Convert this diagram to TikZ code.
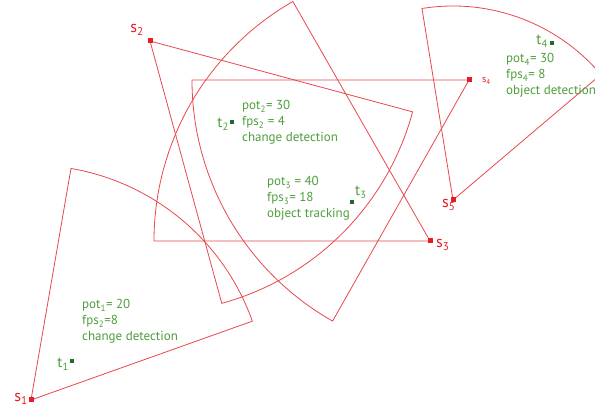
\documentclass[tikz,border=0pt]{standalone}
\usepackage{fontspec}
\setmainfont{PT Sans}
\definecolor{fov}{HTML}{E8484C}
\definecolor{sred}{HTML}{E81C24}
\definecolor{tgreen}{HTML}{4E9F3D}
\definecolor{tdark}{HTML}{1F6B2A}
\begin{document}
\begin{tikzpicture}[x=1pt,y=1pt,
  sensor/.style={rectangle,fill=sred,minimum size=5pt,inner sep=0pt},
  target/.style={rectangle,fill=tdark,minimum size=3.6pt,inner sep=0pt},
  fovline/.style={draw=fov,line width=0.8pt,line join=miter},
  info/.style={text=tgreen,font=\fontsize{13}{16}\selectfont,align=left,anchor=north west,inner sep=0pt},
  slab/.style={text=sred,font=\fontsize{16}{16}\selectfont,inner sep=0pt},
  slabsmall/.style={text=sred,font=\fontsize{10}{10}\selectfont,inner sep=0pt},
  tlab/.style={text=tgreen,font=\fontsize{15}{15}\selectfont,inner sep=0pt}]
\useasboundingbox (0,0) rectangle (595,412);
\clip (0,0) rectangle (595,412);
\fill[white] (0,0) rectangle (595,412);
% sensor positions
\coordinate (c1) at (31,12);
\coordinate (c2) at (150,371);
\coordinate (c3) at (430,171);
\coordinate (c4) at (469,332);
\coordinate (c5) at (453,212);
% fields of view
\draw[fovline] (c1) -- ++(19.6:235pt) arc[start angle=19.6,end angle=80.2,radius=235pt] -- cycle;
\draw[fovline] (c2) -- ++(-74.7:272pt) arc[start angle=-74.7,end angle=-15.1,radius=272pt] -- cycle;
\draw[fovline] (c3) -- ++(119.8:276pt) arc[start angle=119.8,end angle=180,radius=276pt] -- cycle;
\draw[fovline] (c4) -- ++(180:277pt) arc[start angle=180,end angle=240.5,radius=277pt] -- cycle;
\draw[fovline] (c5) -- ++(40.3:194pt) arc[start angle=40.3,end angle=99.2,radius=194pt] -- cycle;
% sensors
\node[sensor] (s1) at (c1) {};
\node[sensor] (s2) at (c2) {};
\node[sensor] (s3) at (c3) {};
\node[sensor] (s4) at (c4) {};
\node[sensor] (s5) at (c5) {};
\node[slab,anchor=base east] (l1) at (28,10) {s\textsubscript{1}};
\node[slab,anchor=base east] (l2) at (144,379) {s\textsubscript{2}};
\node[slab,anchor=base west] (l3) at (436,164) {s\textsubscript{3}};
\node[slabsmall,anchor=base west] (l4) at (482,329) {s\textsubscript{4}};
\node[slab,anchor=base west] (l5) at (442,204) {s\textsubscript{5}};
% targets
\node[target] (t1) at (72,51) {};
\node[target] (t2) at (232,290) {};
\node[target] (t3) at (352,210) {};
\node[target] (t4) at (552,369) {};
\node[tlab,anchor=base east] (tl1) at (69,44) {t\textsubscript{1}};
\node[tlab,anchor=base east] (tl2) at (229,284) {t\textsubscript{2}};
\node[tlab,anchor=base west] (tl3) at (355,216) {t\textsubscript{3}};
\node[tlab,anchor=base east] (tl4) at (548,367) {t\textsubscript{4}};
% info
\node[info] (b1) at (82,112.5) {pot\textsubscript{1}= 20\\fps\textsubscript{2}=8\\change detection};
\node[info] (b2) at (242,311.5) {pot\textsubscript{2}= 30\\fps\textsubscript{2} = 4\\change detection};
\node[info] (b3) at (267,235.5) {pot\textsubscript{3} = 40\\fps\textsubscript{3}= 18\\object tracking};
\node[info] (b4) at (506,358.5) {pot\textsubscript{4}= 30\\fps\textsubscript{4}= 8\\object detection};
\end{tikzpicture}
\end{document}
